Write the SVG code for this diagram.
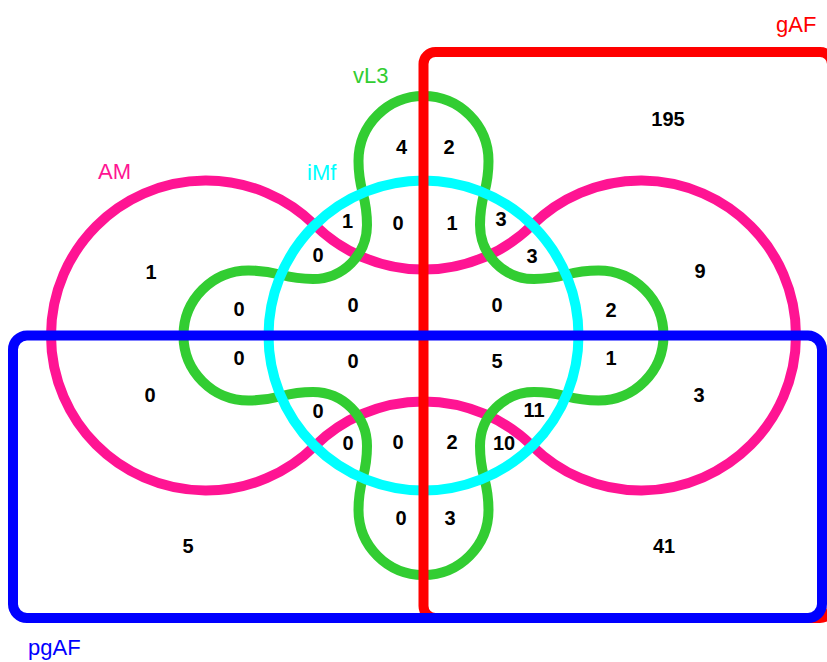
<svg xmlns="http://www.w3.org/2000/svg" width="827" height="662" viewBox="0 0 827 662">
<style>
.set{fill:none;stroke-width:10}
.lbl{font-family:"Liberation Sans",Arial,sans-serif;font-size:22px}
.n{font-family:"Liberation Sans",Arial,sans-serif;font-size:20px;font-weight:bold;fill:#000;text-anchor:middle}
</style>
<rect width="827" height="662" fill="#fff"/>
<g id="set-AM">
<path class="set" stroke="#FF1493" d="M314.75 225.05 A155 155 0 0 0 532.25 225.05 A155 155 0 1 1 532.25 445.95 A155 155 0 0 0 314.75 445.95 A155 155 0 1 1 314.75 225.05 Z"/>
<text class="lbl" fill="#FF1493" x="98" y="179">AM</text>
</g>
<g id="set-vL3">
<path class="set" stroke="#32CD32" d="M358.5 161 A65 65 0 0 1 488.5 161 C488.5 193 480 193 480 225 A54 54 0 0 0 534 279 C566 279 566 270.5 598.5 270.5 A65 65 0 0 1 598.5 400.5 C566 400.5 566 392 534 392 A54 54 0 0 0 480 446 C480 478 488.5 478 488.5 510 A65 65 0 0 1 358.5 510 C358.5 478 367 478 367 446 A54 54 0 0 0 313 392 C281 392 281 400.5 248.5 400.5 A65 65 0 0 1 248.5 270.5 C281 270.5 281 279 313 279 A54 54 0 0 0 367 225 C367 193 358.5 193 358.5 161 Z"/>
<text class="lbl" fill="#32CD32" x="353" y="83">vL3</text>
</g>
<g id="set-iMf">
<circle class="set" stroke="#00FFFF" cx="423.5" cy="335.5" r="155"/>
<text class="lbl" fill="#00FFFF" x="307" y="180">iMf</text>
</g>
<g id="set-gAF">
<rect class="set" stroke="#FF0000" x="423.5" y="52" width="408.5" height="566" rx="12"/>
<text class="lbl" fill="#FF0000" x="776" y="32">gAF</text>
</g>
<g id="set-pgAF">
<rect class="set" stroke="#0000FF" x="13" y="335.5" width="809" height="282.5" rx="14"/>
<text class="lbl" fill="#0000FF" x="28" y="655">pgAF</text>
</g>
<g id="counts">
<text class="n" x="668" y="126">195</text>
<text class="n" x="401.5" y="153.5">4</text>
<text class="n" x="449" y="153.5">2</text>
<text class="n" x="151" y="278.5">1</text>
<text class="n" x="700" y="277.5">9</text>
<text class="n" x="347.5" y="227.5">1</text>
<text class="n" x="398" y="229.5">0</text>
<text class="n" x="452" y="229.5">1</text>
<text class="n" x="501" y="226">3</text>
<text class="n" x="318" y="261.5">0</text>
<text class="n" x="532" y="262.5">3</text>
<text class="n" x="239" y="315.5">0</text>
<text class="n" x="353" y="311.5">0</text>
<text class="n" x="497" y="311.5">0</text>
<text class="n" x="611" y="316.5">2</text>
<text class="n" x="239" y="364.5">0</text>
<text class="n" x="353" y="367.5">0</text>
<text class="n" x="497" y="367.5">5</text>
<text class="n" x="611" y="365">1</text>
<text class="n" x="150" y="401.5">0</text>
<text class="n" x="699" y="401.5">3</text>
<text class="n" x="318" y="417.5">0</text>
<text class="n" x="534" y="416.5">11</text>
<text class="n" x="348" y="450">0</text>
<text class="n" x="398" y="449">0</text>
<text class="n" x="452" y="449">2</text>
<text class="n" x="504" y="450">10</text>
<text class="n" x="401" y="524.5">0</text>
<text class="n" x="450" y="524.5">3</text>
<text class="n" x="188" y="553">5</text>
<text class="n" x="664" y="553">41</text>
</g>
</svg>
